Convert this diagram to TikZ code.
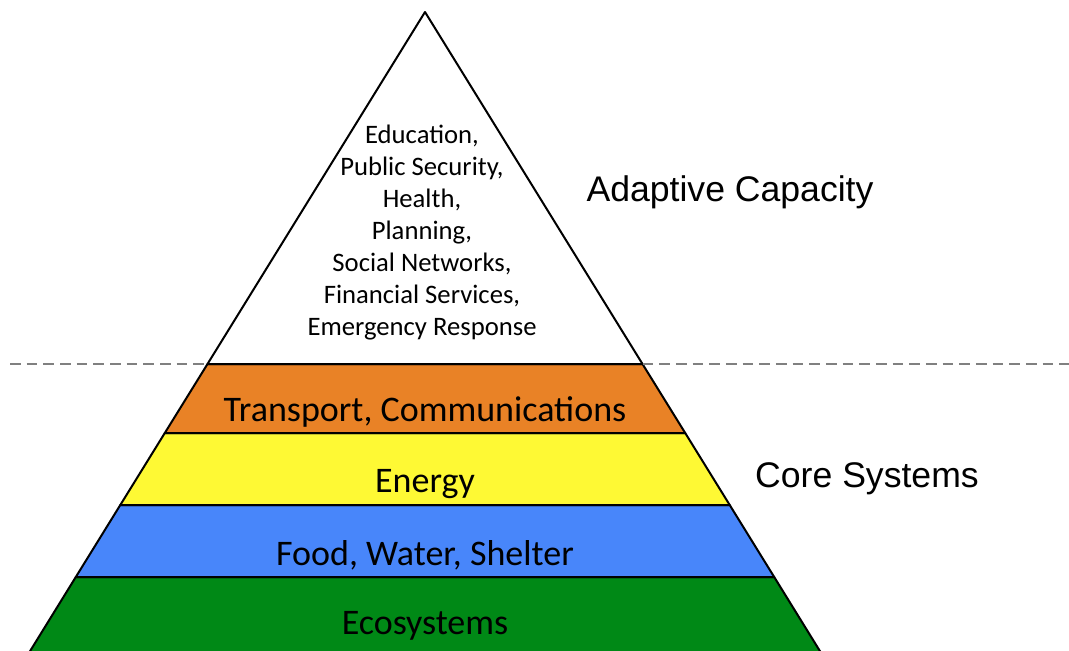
\documentclass[tikz,border=0pt]{standalone}
\usepackage{fontspec}
\setmainfont{Carlito}
\newfontfamily\labelfont{Liberation Sans}
\usetikzlibrary{positioning}

\definecolor{transportorange}{RGB}{233,130,38}
\definecolor{energyyellow}{RGB}{254,249,52}
\definecolor{foodblue}{RGB}{72,134,250}
\definecolor{ecogreen}{RGB}{0,137,22}

\tikzset{every picture/.style={line width=0.75pt}}
\tikzset{
	band/.style={draw=black, line width=1.5pt, line join=round},
	bandtext/.style={inner sep=0.75pt, font=\fontsize{27}{30}\selectfont},
	sidetext/.style={inner sep=0.75pt, font=\labelfont\fontsize{26.7}{29}\selectfont},
}

\begin{document}
\begin{tikzpicture}[x=0.75pt,y=0.75pt,yscale=-1,xscale=1]
	\useasboundingbox (0,0) rectangle (1069,650);
	\clip (0,0) rectangle (1069,650);
	% Draw the bands of the pyramid
	\draw [band, fill=ecogreen]        (75.8,577) -- (774.2,577) -- (820.5,652) -- (29.5,652) -- cycle ;
	\draw [band, fill=foodblue]        (120.3,505) -- (729.7,505) -- (774.2,577) -- (75.8,577) -- cycle ;
	\draw [band, fill=energyyellow]    (164.8,433) -- (685.2,433) -- (729.7,505) -- (120.3,505) -- cycle ;
	\draw [band, fill=transportorange] (207.5,364) -- (642.5,364) -- (685.2,433) -- (164.8,433) -- cycle ;
	
	% Draw the top of the pyramid
	\draw [band, fill=white] (425,12) -- (642.5,364) -- (207.5,364) -- cycle ;
	
	% Draw dashed line
	\draw [color={rgb, 255:red, 128; green, 128; blue, 128 }, line width=1.5pt, dash pattern=on 8pt off 4.5pt] (10,364) -- (207.5,364) ;
	\draw [color={rgb, 255:red, 128; green, 128; blue, 128 }, line width=1.5pt, dash pattern=on 8pt off 4.5pt] (642.5,364) -- (1069,364) ;
	
	% Add text nodes
	\node [bandtext] (transport) at (425,412) {Transport, Communications};
	\node [bandtext] (energy) at (425,484) {Energy};
	\node [bandtext] (food) at (425,555) {Food, Water, Shelter};
	\node [bandtext] (eco) at (425,626) {Ecosystems};
	\node [inner sep=0.75pt, align=center, font=\fontsize{20}{24}\selectfont] (adaptive) at (422,233) {Education,\\Public Security,\\Health,\\Planning,\\Social Networks,\\Financial Services,\\Emergency Response};
	\node [sidetext] (capacity) at (730,192) {Adaptive Capacity};
	\node [sidetext] (core) at (867,479) {Core Systems};
\end{tikzpicture}
\end{document}
